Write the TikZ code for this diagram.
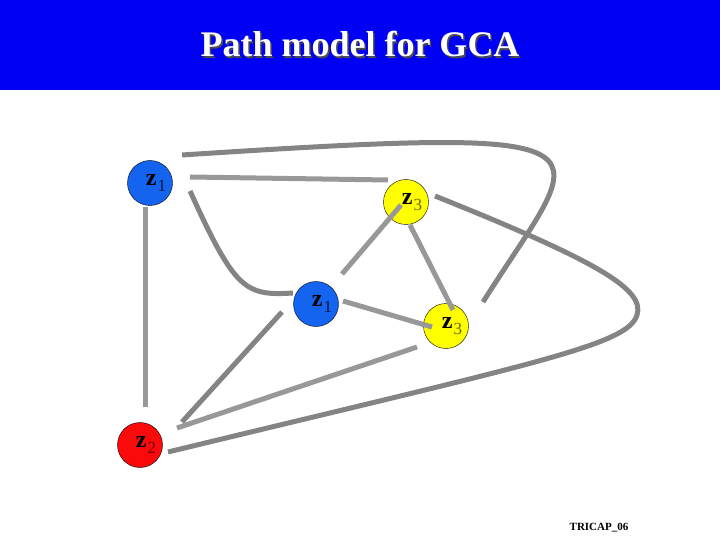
\documentclass[tikz,border=0pt]{standalone}
\usepackage{fontspec}
\setmainfont{Liberation Serif}
\usetikzlibrary{calc}

\definecolor{bannerblue}{RGB}{0,0,245}
\definecolor{varblue}{RGB}{20,100,240}
\definecolor{varyellow}{RGB}{255,255,0}
\definecolor{varred}{RGB}{250,10,10}
\definecolor{pathdark}{RGB}{132,132,132}
\definecolor{pathlight}{RGB}{152,152,152}

\newcommand{\zlab}[2]{\hspace{12pt}{\fontsize{24}{24}\selectfont\bfseries z}\hspace{1pt}\raisebox{-6pt}{\fontsize{17}{17}\selectfont\color{#2}#1}}

\begin{document}
\begin{tikzpicture}[
    x=1pt, y=-1pt,
    var/.style={circle, draw=black, thin, minimum size=45pt, inner sep=0pt},
    darkline/.style={draw=pathdark, line width=5pt},
    lightline/.style={draw=pathlight, line width=5pt}
]
\useasboundingbox (0,0) rectangle (720,540);

% Title banner
\fill[bannerblue] (0,0) rectangle (720,90);
\node[anchor=base, text=black!70, font=\fontsize{36}{36}\selectfont\bfseries] (titleshadow) at (361.5,58.5) {Path model for GCA};
\node[anchor=base, text=white, font=\fontsize{36}{36}\selectfont\bfseries] (title) at (360,57) {Path model for GCA};

% Variables
\node[var, fill=varblue] (z1top) at (150,183) {\zlab{1}{black!75!varblue}};
\node[var, fill=varyellow] (z3top) at (406,202) {\zlab{3}{black!60!varyellow}};
\node[var, fill=varblue] (z1mid) at (316,304) {\zlab{1}{black!75!varblue}};
\node[var, fill=varyellow] (z3mid) at (446,326) {\zlab{3}{black!60!varyellow}};
\node[var, fill=varred] (z2) at (140,445) {\zlab{2}{black!55!varred}};

% Paths
\draw[darkline] ($(z1top)+(32,-28)$) .. controls +(460,-30) and +(102,-162) .. ($(z3mid)+(37,-24)$);
\draw[lightline] ($(z1top)+(40,-6)$) -- ($(z3top)+(-18,-22)$);
\draw[darkline] ($(z1top)+(40,8)$) .. controls +(45,99) and +(-48,3) .. ($(z1mid)+(-23,-11)$);
\draw[lightline] ($(z1top)+(-5,24)$) -- ($(z2)+(5,-38)$);
\draw[lightline] ($(z3top)+(-5,3)$) -- ($(z1mid)+(26,-30)$);
\draw[lightline] ($(z3top)+(4,23)$) -- ($(z3mid)+(7,-16)$);
\coordinate (bend) at (637,315);
\draw[darkline] ($(z3top)+(29,-6)$) .. controls +(165,66) and +(8,-25) .. (bend)
    .. controls +(-9,30) and +(372,-90) .. ($(z2)+(28,7)$);
\draw[lightline] ($(z1mid)+(27,-3)$) -- ($(z3mid)+(-14,1)$);
\draw[darkline] ($(z1mid)+(-34,8)$) -- ($(z2)+(42,-23)$);
\draw[lightline] ($(z3mid)+(-29,21)$) -- ($(z2)+(37,-17)$);

\node[anchor=base, font=\fontsize{11}{11}\selectfont\bfseries] (tag) at (599,530) {TRICAP\_06};

\end{tikzpicture}
\end{document}
